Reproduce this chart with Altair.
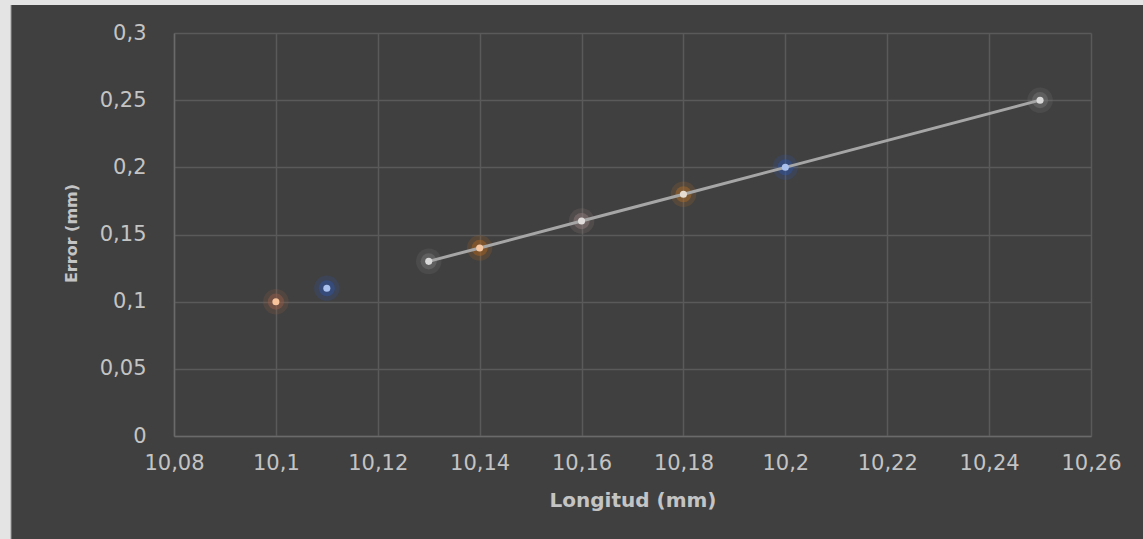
import altair as alt
import pandas as pd

# Data
longitud = [10.10, 10.11, 10.13, 10.14, 10.16, 10.18, 10.20, 10.25]
error = [0.10, 0.11, 0.13, 0.14, 0.16, 0.18, 0.20, 0.25]
core_color = ["#f8c39a", "#a9c1ee", "#d9d9d9", "#f6c7a0", "#e0dcdc", "#e6dcd2", "#a9c1ee", "#d9d9d9"]
glow_color = ["#9a5e48", "#2e55a8", "#777777", "#b0641e", "#957f7f", "#b06c28", "#2e55a8", "#777777"]

# line series (points from 10.13 onward)
line_x = [10.13, 10.14, 10.16, 10.18, 10.20, 10.25]
line_y = [0.13, 0.14, 0.16, 0.18, 0.20, 0.25]

x_ticks = [10.08, 10.10, 10.12, 10.14, 10.16, 10.18, 10.20, 10.22, 10.24, 10.26]
y_ticks = [0, 0.05, 0.10, 0.15, 0.20, 0.25, 0.30]

pts = pd.DataFrame({"x": longitud, "y": error, "core": core_color, "glow": glow_color})
lin = pd.DataFrame({"x": line_x, "y": line_y})

FONT = "DejaVu Sans"
TXT = "#c4c4c4"
GRID = "#5a5a5a"

xs = alt.Scale(domain=[10.08, 10.26], nice=False, zero=False)
ys = alt.Scale(domain=[0, 0.3], nice=False)

x_axis = alt.Axis(
    values=x_ticks, title="Longitud (mm)",
    labelExpr="replace(format(datum.value, '.2~f'), '.', ',')",
    labelFont=FONT, labelFontSize=21, labelColor=TXT, labelPadding=16,
    labelFlush=False, labelOverlap=False,
    ticks=False, domain=True, domainColor="#6a6a6a", domainWidth=1.5,
    grid=True, gridColor=GRID, gridWidth=1.5,
    titleFont=FONT, titleFontSize=20, titleFontWeight="bold", titleColor=TXT,
    titleY=64, titleBaseline="middle",
)
y_axis = alt.Axis(
    values=y_ticks, title="Error (mm)",
    labelExpr="replace(format(datum.value, '.2~f'), '.', ',')",
    labelFont=FONT, labelFontSize=21, labelColor=TXT, labelPadding=28,
    labelFlush=False, labelOverlap=False,
    ticks=False, domain=True, domainColor="#6a6a6a", domainWidth=1.5,
    grid=True, gridColor=GRID, gridWidth=1.5,
    titleFont=FONT, titleFontSize=16, titleFontWeight="bold", titleColor=TXT,
    titleX=-103, titleY=200, titleAngle=-90, titleBaseline="middle", titleAlign="center",
)

base_x = alt.X("x:Q", scale=xs, axis=x_axis)
base_y = alt.Y("y:Q", scale=ys, axis=y_axis)

glow_outer = alt.Chart(pts).mark_circle(size=650, opacity=0.2).encode(
    x=base_x, y=base_y, color=alt.Color("glow:N", scale=None))
glow_inner = alt.Chart(pts).mark_circle(size=260, opacity=0.45).encode(
    x="x:Q", y="y:Q", color=alt.Color("glow:N", scale=None))
line = alt.Chart(lin).mark_line(color="#a6a6a6", strokeWidth=3).encode(x="x:Q", y="y:Q")
core = alt.Chart(pts).mark_circle(size=50, opacity=1).encode(
    x="x:Q", y="y:Q", color=alt.Color("core:N", scale=None))

frame = pd.DataFrame({"k": [0]})
left_strip = alt.Chart(frame).mark_rect(color="#e4e4e4").encode(
    x=alt.value(-174), x2=alt.value(-163), y=alt.value(-33), y2=alt.value(506))
top_strip = alt.Chart(frame).mark_rect(color="#e4e4e4").encode(
    x=alt.value(-174), x2=alt.value(969), y=alt.value(-33), y2=alt.value(-28))
edge = alt.Chart(frame).mark_rule(color="#9a9a9a", strokeWidth=1).encode(
    x=alt.value(-163), y=alt.value(-28), y2=alt.value(506))

chart = alt.layer(glow_outer, glow_inner, line, core, left_strip, top_strip, edge).properties(
    width=917, height=403,
    background="#404040",
    padding={"left": 174, "top": 33, "right": 52, "bottom": 103},
    autosize=alt.AutoSizeParams(type="none"),
).configure_view(stroke=None)

chart.save("out.html", embed_options={"renderer": "svg", "actions": False})
